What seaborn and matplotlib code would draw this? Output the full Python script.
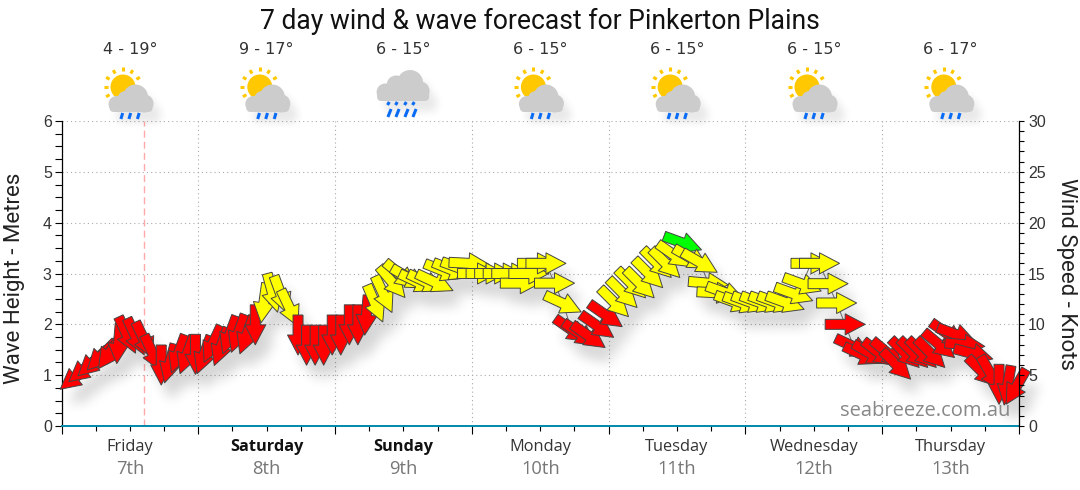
import matplotlib
matplotlib.use('Agg')
import matplotlib.pyplot as plt
import numpy as np
import pandas as pd
import seaborn as sns
from matplotlib.collections import PatchCollection
from matplotlib.patches import Circle, FancyBboxPatch
from matplotlib.ticker import MultipleLocator

title = '7 day wind & wave forecast for Pinkerton Plains'
weekdays = ['Friday', 'Saturday', 'Sunday', 'Monday', 'Tuesday', 'Wednesday', 'Thursday']
dates = ['7th', '8th', '9th', '10th', '11th', '12th', '13th']
weekend = [False, True, True, False, False, False, False]
temps = ['4 - 19°', '9 - 17°', '6 - 15°', '6 - 15°', '6 - 15°', '6 - 15°', '6 - 17°']
icons = ['sun', 'sun', 'rain', 'sun', 'sun', 'sun', 'sun']
now_hour = 14.55

# hours after Friday 00:00
wave_hours = [
    2.5, 4.0, 5.5, 7.0, 8.5, 10.0, 11.5, 13.0, 14.5, 16.0,
    17.5, 19.0, 20.5, 22.0, 23.5, 25.0, 26.5, 28.0, 29.5, 31.0,
    32.5, 34.0, 35.5, 37.0, 38.5, 40.0, 41.5, 43.0, 44.5, 46.0,
    47.5, 49.0, 50.5, 52.0, 53.5, 55.0, 56.5, 58.0, 59.5, 61.0,
    62.5, 64.0, 65.5, 67.0, 68.5, 70.0, 71.5, 73.0, 74.5, 76.0,
    77.5, 79.0, 80.5, 82.0, 83.5, 85.0, 86.5, 88.0, 89.5, 91.0,
    92.5, 94.0, 95.5, 97.0, 98.5, 100.0, 101.5, 103.0, 104.5, 106.0,
    107.5, 109.0, 110.5, 112.0, 113.5, 115.0, 116.5, 118.0, 119.5, 121.0,
    122.5, 124.0, 125.5, 127.0, 128.5, 130.0, 131.5, 133.0, 134.5, 136.0,
    137.5, 139.0, 140.5, 142.0, 143.5, 145.0, 146.5, 148.0, 149.5, 151.0,
    152.5, 154.0, 155.5, 157.0, 158.5, 160.0, 161.5, 163.0, 164.5, 166.0,
    167.5,
]
wave_height = [
    0.97, 1.12, 1.25, 1.38, 1.45, 1.62, 1.79, 1.76, 1.69, 1.43,
    1.20, 1.23, 1.42, 1.40, 1.41, 1.40, 1.61, 1.56, 1.79, 1.82,
    1.79, 1.99, 2.42, 2.62, 2.58, 2.32, 1.79, 1.59, 1.59, 1.59,
    1.79, 1.79, 1.99, 1.99, 2.18, 2.41, 2.59, 2.83, 2.97, 2.91,
    2.83, 2.83, 2.83, 3.05, 3.07, 3.10, 3.20, 3.00, 3.00, 3.00,
    3.00, 3.00, 2.81, 3.00, 3.20, 3.20, 2.81, 2.41, 1.89, 1.81,
    1.77, 1.97, 2.18, 2.43, 2.61, 2.80, 2.80, 3.00, 3.20, 3.20,
    3.36, 3.60, 3.30, 3.22, 2.81, 2.62, 2.62, 2.44, 2.42, 2.43,
    2.43, 2.43, 2.43, 2.43, 2.60, 2.79, 3.20, 3.20, 2.80, 2.42,
    2.00, 1.56, 1.40, 1.42, 1.43, 1.43, 1.20, 1.43, 1.43, 1.43,
    1.43, 1.60, 1.81, 1.80, 1.60, 1.42, 1.07, 1.03, 0.82, 0.80,
    0.77,
]
# heading of each arrow, degrees anticlockwise from east
wave_dir = [
    219, 219, 222, 225, 235, 265, 295, 295, 295, 295,
    270, 255, 250, 250, 270, 250, 245, 250, 250, 250,
    250, 270, 262, 285, 290, 295, 270, 270, 270, 270,
    270, 270, 270, 270, 265, 293, 295, 310, 320, 330,
    335, 335, 335, 338, 338, 340, 357, 0, 0, 0,
    0, 0, 0, 0, 0, 0, 0, 335, 325, 325,
    325, 325, 325, 315, 315, 315, 315, 315, 315, 315,
    325, 340, 330, 330, 355, 357, 340, 340, 340, 340,
    340, 340, 340, 340, 340, 340, 0, 0, 0, 0,
    0, 335, 335, 330, 322, 320, 315, 315, 315, 315,
    315, 320, 325, 340, 355, 345, 315, 300, 270, 260,
    240,
]
wave_colour = (
    ['red'] * 22 + ['yellow'] * 4 + ['red'] * 9 + ['yellow'] * 23 + ['red'] * 5
    + ['yellow'] * 8 + ['lime'] + ['yellow'] * 18 + ['red'] * 21
)

df = pd.DataFrame({'hour': wave_hours, 'height': wave_height})


def shadow(dx, dy, blur, strength):
    # agg filter: soft black copy of whatever was drawn, moved by dx, dy pixels
    kernel = np.ones(blur) / blur

    def smooth(a, axis):
        for _ in range(3):
            a = np.apply_along_axis(np.convolve, axis, a, kernel, mode='same')
        return a

    def process(im, dpi):
        pad = blur * 3
        a = np.pad(im[:, :, 3], pad)
        a = smooth(smooth(a, 0), 1)
        out = np.zeros(a.shape + (4,))
        out[:, :, 3] = np.clip(a * strength, 0, 1)
        return out, dx - pad, dy - pad

    return process


def add_quiver(ax, colours, edge, lw, zorder):
    rad = np.deg2rad(wave_dir)
    return ax.quiver(
        df['hour'], df['height'], 40 * np.cos(rad), 40 * np.sin(rad),
        color=colours, edgecolor=edge, linewidth=lw, pivot='mid', angles='uv',
        units='dots', scale_units='dots', scale=1, width=10,
        headwidth=2.1, headlength=2, headaxislength=2, minlength=0,
        zorder=zorder, clip_on=False)


def draw_icon(overlay, kind, cx):
    # icons drawn in pixel coordinates of the overlay
    if kind == 'sun':
        sx, sy = cx - 6.5, 87
        for a in [0, 30, 60, -30, -60, -90, -120]:
            r = np.deg2rad(a)
            overlay.plot([sx + 15.5 * np.sin(r), sx + 19.5 * np.sin(r)],
                         [sy - 15.5 * np.cos(r), sy - 19.5 * np.cos(r)],
                         color='#ffc800', lw=2.2, solid_capstyle='butt', zorder=4)
        overlay.add_patch(Circle((sx, sy), 12.5, color='#ffc800', lw=0, zorder=4))
        blobs = [(cx + 6, 97, 12.5), (cx + 15, 103.5, 9), (cx - 13, 104, 8), (cx - 4, 99, 8)]
        base = (cx - 20, 102, 43, 10)
        drops = [(cx - 8, 113), (cx, 113), (cx + 8.5, 113)]
        dlen = 6
    else:
        blobs = [(cx + 7, 83, 13), (cx + 17, 91, 9.5), (cx - 18, 92, 8.5), (cx - 7, 85, 9.5)]
        base = (cx - 26, 90, 52, 11)
        drops = [(cx - 15, 102), (cx - 7, 102), (cx + 2, 102), (cx + 10, 102)]
        dlen = 3
    box = 'round,pad=0,rounding_size=4.5'
    parts = [Circle((x, y), r) for x, y, r in blobs]
    parts.append(FancyBboxPatch((base[0], base[1]), base[2], base[3], boxstyle=box))
    shade = PatchCollection(parts, facecolor='k', edgecolor='none', zorder=3)
    shade.set_transform(overlay.transData)
    shade.set_agg_filter(shadow(6, -9, 8, 0.09))
    overlay.add_collection(shade, autolim=False)
    for x, y, r in blobs:
        overlay.add_patch(Circle((x, y), r, color='#cccccc', lw=0, zorder=5))
    overlay.add_patch(FancyBboxPatch((base[0], base[1]), base[2], base[3], boxstyle=box,
                                     color='#cccccc', lw=0, zorder=5))
    for x, y in drops:
        overlay.plot([x + 1.2, x - 0.6], [y, y + dlen], color='#0a6cf5', lw=2.2,
                     solid_capstyle='butt', zorder=5)
        if kind == 'rain':
            overlay.plot([x + 3, x - 0.2], [y + 7, y + 15], color='#0a6cf5', lw=2.2,
                         solid_capstyle='butt', zorder=5)


sns.set_style('ticks')
plt.rcParams['font.family'] = ['Liberation Sans', 'DejaVu Sans']

fig = plt.figure(figsize=(10.8, 4.9), dpi=100)
ax = fig.add_axes([61.5 / 1080, 64 / 490, 957.5 / 1080, 305 / 490])
ax.set_xlim(0, 168)
ax.set_ylim(0, 6)

# grid and axes
ax.set_xticks(np.arange(0, 169, 24))
ax.xaxis.set_minor_locator(MultipleLocator(6))
ax.yaxis.set_major_locator(MultipleLocator(1))
ax.yaxis.set_minor_locator(MultipleLocator(0.25))
ax.grid(True, which='major', color='#aaaaaa', lw=0.8, ls=(0, (1, 2.8)))
ax.set_axisbelow(True)
ax.set_xticklabels([])
ax.tick_params(axis='x', which='major', bottom=True, length=6, width=0.8, color='k', pad=2)
ax.tick_params(axis='x', which='minor', bottom=True, length=3.5, width=0.8, color='k')
ax.tick_params(axis='y', which='both', length=5, width=0.8, color='k',
               labelsize=11.5, labelcolor='#333333', pad=2)
sns.despine(ax=ax, top=True, right=False)
ax.spines['bottom'].set_color('#0088aa')
ax.spines['bottom'].set_linewidth(1.4)
ax.spines['left'].set_color('k')
ax.spines['left'].set_linewidth(0.9)
ax.spines['right'].set_visible(False)

ax2 = ax.twinx()
ax2.set_ylim(0, 30)
ax2.yaxis.set_major_locator(MultipleLocator(5))
ax2.yaxis.set_minor_locator(MultipleLocator(1))
ax2.tick_params(axis='y', which='both', length=3.5, width=0.8, color='k',
                labelsize=11.5, labelcolor='#333333', pad=3)
ax2.grid(False)
for name, sp in ax2.spines.items():
    sp.set_visible(name == 'right')
ax2.spines['right'].set_color('k')
ax2.spines['right'].set_linewidth(0.9)

ax.axvline(now_hour, color='#ffaaaa', lw=1, ls=(0, (5, 3)), zorder=1)

# arrows: blurred shadow, thin joining line, then the arrows themselves
shade = add_quiver(ax, 'k', 'none', 0, 2)
shade.set_agg_filter(shadow(3, -5, 7, 0.55))
sns.lineplot(data=df, x='hour', y='height', sort=False, estimator=None, color='#666666',
             lw=0.7, ax=ax, zorder=2.5, legend=False)
add_quiver(ax, wave_colour, '#444444', 0.7, 3)
ax.set_xlabel('')
ax.set_ylabel('')
ax.set_xlim(0, 168)
ax.set_ylim(0, 6)

# day names and temperatures
for d in range(7):
    hour = 12 + 24 * d
    trans = ax.get_xaxis_transform()
    ax.text(hour, (426 - 447) / 305, weekdays[d], transform=trans, ha='center', va='center',
            fontsize=11.8, family='Open Sans', color='#111111' if weekend[d] else '#333333',
            fontweight='bold' if weekend[d] else 'normal')
    ax.text(hour, (426 - 469) / 305, dates[d], transform=trans, ha='center', va='center',
            fontsize=13.2, family='Open Sans', color='#777777')
    ax.text(hour, (426 - 50) / 305, temps[d], transform=trans, ha='center', va='center',
            fontsize=11.5, family='DejaVu Sans', color='#333333')

ax.text(0.991, 0.05, 'seabreeze.com.au', transform=ax.transAxes, ha='right', va='center',
        fontsize=14.5, family='Open Sans', color='#888888', zorder=6)

# overlay in pixels for the weather icons
overlay = fig.add_axes([0, 0, 1, 1], facecolor='none')
overlay.set_xlim(0, 1080)
overlay.set_ylim(490, 0)
overlay.axis('off')
for d, kind in enumerate(icons):
    draw_icon(overlay, kind, 129.5 + d * 136.8)

fig.text(540 / 1080, 1 - 21 / 490, title, ha='center', va='center', fontsize=19.1,
         family='Roboto', color='#111111')
fig.text(14.5 / 1080, 1 - 278.5 / 490, 'Wave Height - Metres', rotation=90, ha='center', va='center',
         fontsize=16, family='Roboto', color='#222222')
fig.text(1067 / 1080, 1 - 273.5 / 490, 'Wind Speed - Knots', rotation=270, ha='center', va='center',
         fontsize=16, family='Roboto', color='#222222')

fig.savefig('out.png', dpi=100)
